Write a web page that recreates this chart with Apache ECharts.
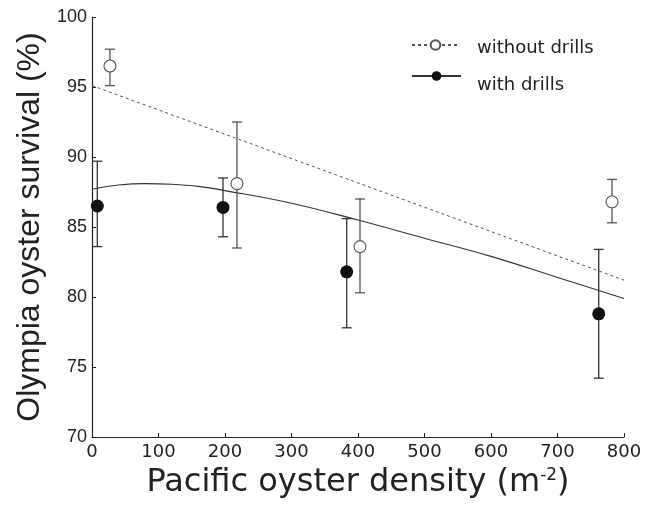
<!DOCTYPE html>
<html>
<head>
<meta charset="utf-8">
<script src="https://cdn.jsdelivr.net/npm/echarts@6/dist/echarts.min.js"></script>
<style>
html,body{margin:0;padding:0;background:#fff;}
#chart{width:647px;height:510px;}
</style>
</head>
<body>
<div id="chart"></div>
<script>
// Axis ticks
var xTicks = [0, 100, 200, 300, 400, 500, 600, 700, 800];
var yTicks = [70, 75, 80, 85, 90, 95, 100];

// Without drills (open circles)
var withoutX = [27, 218, 403, 782];
var withoutY = [96.5, 88.1, 83.6, 86.8];
var withoutLow = [95.1, 83.5, 80.3, 85.3];
var withoutHigh = [97.7, 92.5, 87.0, 88.4];

// With drills (filled circles)
var withX = [8, 197, 383, 762];
var withY = [86.5, 86.4, 81.8, 78.8];
var withLow = [83.6, 84.3, 77.8, 74.2];
var withHigh = [89.7, 88.5, 85.6, 83.4];

// Fitted trend lines
var fitWithoutX = [0, 800];
var fitWithoutY = [95.1, 81.2];
var fitWithX = [0, 40, 80, 120, 160, 200, 300, 400, 500, 600, 700, 800];
var fitWithY = [87.7, 88.0, 88.1, 88.05, 87.9, 87.6, 86.7, 85.5, 84.2, 82.9, 81.4, 79.9];

function zip(a, b) { return a.map(function (v, i) { return [v, b[i]]; }); }
function zip3(a, b, c) { return a.map(function (v, i) { return [v, b[i], c[i]]; }); }

function errRender(color) {
  return function (params, api) {
    var x = api.value(0);
    var lo = api.coord([x, api.value(1)]);
    var hi = api.coord([x, api.value(2)]);
    var w = 5;
    var st = { stroke: color, lineWidth: 1.3 };
    return {
      type: 'group',
      children: [
        { type: 'line', shape: { x1: lo[0], y1: lo[1], x2: hi[0], y2: hi[1] }, style: st },
        { type: 'line', shape: { x1: lo[0] - w, y1: lo[1], x2: lo[0] + w, y2: lo[1] }, style: st },
        { type: 'line', shape: { x1: hi[0] - w, y1: hi[1], x2: hi[0] + w, y2: hi[1] }, style: st }
      ]
    };
  };
}

var fontFam = '"Liberation Sans", Arial, Helvetica, sans-serif';
var wideFam = '"DejaVu Sans", "Liberation Sans", sans-serif';
var chart = echarts.init(document.getElementById('chart'), null, { renderer: 'canvas' });
chart.setOption({
  backgroundColor: '#fff',
  animation: false,
  textStyle: { fontFamily: fontFam },
  grid: { left: 92, right: 23, top: 17, bottom: 73, containLabel: false },
  legend: [
    {
      orient: 'vertical', left: 411, top: 32, padding: 0,
      itemWidth: 47, itemHeight: 12,
      formatter: function (name) { return '{s| }\n{t|' + name + '}'; },
      textStyle: {
        fontSize: 18, color: '#222', fontFamily: wideFam, padding: [0, 0, 0, 13],
        rich: {
          s: { fontSize: 6, lineHeight: 7 },
          t: { fontSize: 18, lineHeight: 20, fontFamily: wideFam, color: '#222' }
        }
      },
      data: ['without drills']
    },
    {
      orient: 'vertical', left: 411, top: 63, padding: 0,
      itemWidth: 49, itemHeight: 12,
      formatter: function (name) { return '{s| }\n{t|' + name + '}'; },
      textStyle: {
        fontSize: 18, color: '#222', fontFamily: wideFam, padding: [0, 0, 0, 11],
        rich: {
          s: { fontSize: 6, lineHeight: 18 },
          t: { fontSize: 18, lineHeight: 20, fontFamily: wideFam, color: '#222' }
        }
      },
      data: ['with drills']
    }
  ],
  xAxis: {
    type: 'value',
    min: xTicks[0], max: xTicks[xTicks.length - 1], interval: 100,
    name: 'Pacific oyster density (m{sup|-2})',
    nameLocation: 'middle',
    nameGap: 30,
    nameTextStyle: {
      fontSize: 32, color: '#222', fontFamily: wideFam,
      rich: { sup: { fontSize: 17, fontFamily: wideFam, verticalAlign: 'top', padding: [0, 0, 14, 0], color: '#222' } }
    },
    axisLine: { show: true, lineStyle: { color: '#222', width: 1.2 } },
    axisTick: { show: true, inside: true, length: 4, lineStyle: { color: '#222' } },
    axisLabel: { fontSize: 18, color: '#222', margin: 6, fontFamily: wideFam },
    splitLine: { show: false }
  },
  yAxis: {
    type: 'value',
    min: yTicks[0], max: yTicks[yTicks.length - 1], interval: 5,
    name: 'Olympia oyster survival (%)',
    nameLocation: 'middle',
    nameGap: 45,
    nameTextStyle: { fontSize: 32, color: '#222', fontFamily: fontFam },
    axisLine: { show: true, lineStyle: { color: '#222', width: 1.2 } },
    axisTick: { show: true, inside: true, length: 4, lineStyle: { color: '#222' } },
    axisLabel: { fontSize: 18, color: '#222', margin: 5, fontFamily: fontFam },
    splitLine: { show: false }
  },
  series: [
    {
      name: 'without drills', type: 'line',
      data: zip(fitWithoutX, fitWithoutY),
      showSymbol: false, symbol: 'emptyCircle', symbolSize: 11,
      lineStyle: { color: '#555', width: 1, type: [3, 3] },
      itemStyle: { color: '#555', borderColor: '#555', borderWidth: 1 },
      silent: true, z: 2
    },
    {
      name: 'with drills', type: 'line',
      data: zip(fitWithX, fitWithY),
      smooth: 0.4,
      showSymbol: false, symbol: 'circle', symbolSize: 13,
      lineStyle: { color: '#333', width: 1.1 },
      itemStyle: { color: '#111' },
      silent: true, z: 2
    },
    {
      name: 'errWithout', type: 'custom',
      data: zip3(withoutX, withoutLow, withoutHigh),
      renderItem: errRender('#555'),
      z: 3
    },
    {
      name: 'errWith', type: 'custom',
      data: zip3(withX, withLow, withHigh),
      renderItem: errRender('#333'),
      z: 3
    },
    {
      name: 'ptsWithout', type: 'scatter',
      data: zip(withoutX, withoutY),
      symbol: 'circle', symbolSize: 12,
      itemStyle: { color: '#fff', borderColor: '#555', borderWidth: 1.1, opacity: 1 },
      z: 5
    },
    {
      name: 'ptsWith', type: 'scatter',
      data: zip(withX, withY),
      symbol: 'circle', symbolSize: 13,
      itemStyle: { color: '#111', opacity: 1 },
      z: 5
    }
  ]
});
</script>
</body>
</html>
